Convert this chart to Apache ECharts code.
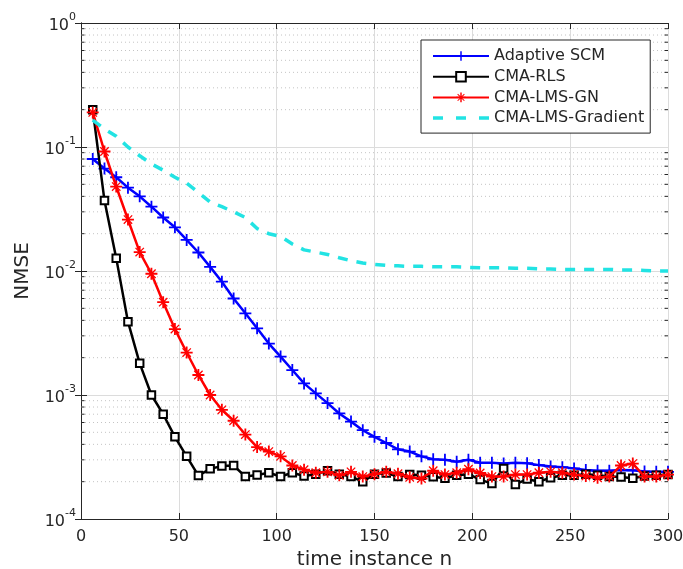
<!DOCTYPE html>
<html><head><meta charset="utf-8">
<script src="https://cdn.jsdelivr.net/npm/echarts@6/dist/echarts.min.js"></script>
<style>html,body{margin:0;padding:0;background:#fff}#c{width:683px;height:569px}</style>
</head><body><div id="c"></div>
<script>
const nValues = [6,12,18,24,30,36,42,48,54,60,66,72,78,84,90,96,102,108,114,120,126,132,138,144,150,156,162,168,174,180,186,192,198,204,210,216,222,228,234,240,246,252,258,264,270,276,282,288,294,300];
const adaptiveSCM = [0.080,0.067,0.057,0.047,0.040,0.033,0.027,0.0225,0.0178,0.0141,
  0.0108,0.0082,0.0060,0.00456,0.00345,0.0026,0.00204,0.00159,0.00124,0.00103,
  0.00086,0.00071,0.00061,0.00052,0.00046,0.00041,0.000365,0.00035,0.00032,0.000303,
  0.0003,0.00029,0.0003,0.000284,0.000284,0.00028,0.000284,0.000282,0.000272,0.000265,
  0.000262,0.000256,0.000248,0.000245,0.000245,0.000248,0.000247,0.000242,0.00024,0.00024];
const cmaRLS = [0.20,0.037,0.0127,0.0039,0.0018,0.0010,0.00070,0.00046,0.00032,0.000224,
  0.000254,0.000267,0.00027,0.00022,0.000226,0.000236,0.00022,0.000236,0.000222,0.00023,
  0.000245,0.00023,0.00022,0.00020,0.00023,0.000235,0.00022,0.000228,0.000225,0.000219,
  0.000213,0.000225,0.00023,0.000208,0.000193,0.000255,0.00019,0.00021,0.0002,0.000215,
  0.000225,0.000225,0.00023,0.000225,0.00022,0.000218,0.000213,0.000222,0.000225,0.000228];
const cmaLMSGN = [0.19,0.092,0.048,0.026,0.0142,0.0095,0.0056,0.0034,0.0022,0.00145,
  0.00100,0.00076,0.00062,0.00048,0.00038,0.00035,0.00032,0.00027,0.00025,0.000236,
  0.00024,0.000225,0.00024,0.00022,0.00023,0.00024,0.000232,0.000217,0.000212,0.000245,
  0.000228,0.000236,0.000252,0.000235,0.00022,0.00022,0.000228,0.000228,0.000236,0.00024,
  0.000236,0.000228,0.000222,0.000215,0.00022,0.00027,0.00028,0.00022,0.00022,0.000228];
const cmaLMSGradient = [0.165,0.14,0.122,0.10,0.085,0.073,0.065,0.057,0.051,0.043,
  0.036,0.033,0.030,0.027,0.022,0.020,0.019,0.0165,0.0148,0.0142,
  0.0136,0.0128,0.0121,0.0116,0.0113,0.0111,0.0110,0.0109,0.0109,0.0108,
  0.0108,0.0108,0.0107,0.0106,0.0106,0.0106,0.0105,0.0105,0.0104,0.0104,
  0.0103,0.0103,0.0103,0.0103,0.0103,0.0102,0.0102,0.0101,0.0100,0.0100];
const seriesNames = ['Adaptive SCM','CMA-RLS','CMA-LMS-GN','CMA-LMS-Gradient'];
const xTicks = [0,50,100,150,200,250,300];
const yDecades = [1e-4,1e-3,1e-2,1e-1,1];

const minorVals = [];
for (let i = 0; i < yDecades.length - 1; i++) for (let k = 2; k <= 9; k++) minorVals.push([0, k * yDecades[i]]);

const FONT = 'DejaVu Sans';
const TXT = '#262626';
const CYAN = '#22e3e3';
const pair = arr => nValues.map((n, i) => [n, arr[i]]);

const plusPath = 'path://M8.5,0H11.5V8.5H20V11.5H11.5V20H8.5V11.5H0V8.5H8.5Z';
const starPath = 'path://M8.5,0H11.5V20H8.5Z M0,8.5H20V11.5H0Z M3.75,2.25L17.75,16.25L16.25,17.75L2.25,3.75Z M17.75,3.75L3.75,17.75L2.25,16.25L16.25,2.25Z';
const dashIcon = 'path://M0,0H10V3.5H0Z M23,0H33V3.5H23Z M46,0H56V3.5H46Z';

const chart = echarts.init(document.getElementById('c'), null, {renderer: 'canvas'});
const axisLineStyle = {color: TXT, width: 1};
chart.setOption({
  animation: false,
  backgroundColor: '#fff',
  textStyle: {fontFamily: FONT},
  grid: {left: 81, right: 15, top: 23, bottom: 50, containLabel: false, outerBoundsMode: 'none'},
  legend: {
    orient: 'vertical', left: 421, top: 40,
    data: [
      {name: seriesNames[0]},
      {name: seriesNames[1]},
      {name: seriesNames[2]},
      {name: seriesNames[3], icon: dashIcon, itemStyle: {color: CYAN}}
    ],
    backgroundColor: '#fff', borderColor: TXT, borderWidth: 1,
    padding: [8, 6, 7, 11], itemWidth: 56, itemHeight: 12, itemGap: 4.7,
    textStyle: {fontFamily: FONT, fontSize: 16, color: TXT},
    selectedMode: false
  },
  xAxis: [{
    type: 'value', min: xTicks[0], max: xTicks[xTicks.length - 1], interval: 50,
    name: 'time instance n', nameLocation: 'middle', nameGap: 29,
    nameTextStyle: {fontFamily: FONT, fontSize: 20, color: TXT},
    axisLine: {show: true, lineStyle: axisLineStyle},
    axisTick: {show: true, inside: true, length: 6, lineStyle: axisLineStyle},
    axisLabel: {fontFamily: FONT, fontSize: 16, color: TXT, margin: 10},
    splitLine: {show: true, lineStyle: {color: '#dcdcdc', width: 1}}
  }, {
    type: 'value', position: 'top', min: 0, max: 300, interval: 50,
    axisLine: {show: true, lineStyle: axisLineStyle},
    axisTick: {show: true, inside: true, length: 6, lineStyle: axisLineStyle},
    axisLabel: {show: false}, splitLine: {show: false}
  }],
  yAxis: [{
    type: 'log', logBase: 10, min: yDecades[0], max: yDecades[yDecades.length - 1],
    name: 'NMSE', nameLocation: 'middle', nameGap: 48, nameRotate: 90,
    nameTextStyle: {fontFamily: FONT, fontSize: 20, color: TXT},
    axisLine: {show: true, lineStyle: axisLineStyle},
    axisTick: {show: true, inside: true, length: 6, lineStyle: axisLineStyle},
    axisLabel: {
      margin: 5,
      formatter: v => '{b|10}{s|' + Math.round(Math.log10(v)) + '}',
      rich: {
        b: {fontFamily: FONT, fontSize: 16, color: TXT, lineHeight: 22, verticalAlign: 'bottom'},
        s: {fontFamily: FONT, fontSize: 11, color: TXT, lineHeight: 11, verticalAlign: 'top'}
      }
    },
    splitLine: {show: true, lineStyle: {color: '#dcdcdc', width: 1}}
  }, {
    type: 'log', logBase: 10, min: 1e-4, max: 1, position: 'right',
    axisLine: {show: true, lineStyle: axisLineStyle},
    axisTick: {show: true, inside: true, length: 6, lineStyle: axisLineStyle},
    axisLabel: {show: false}, splitLine: {show: false}
  }],
  series: [{
    type: 'custom', name: 'minorGrid', silent: true, z: 1,
    xAxisIndex: 0, yAxisIndex: 0,
    encode: {x: 0, y: 1},
    data: minorVals,
    renderItem: (params, api) => {
      const v = api.value(1);
      const a = api.coord([0, v]);
      const b = api.coord([300, v]);
      return {type: 'group', children: [
        {type: 'line', shape: {x1: a[0], y1: a[1], x2: b[0], y2: b[1]},
          style: {stroke: '#c4c4c4', lineWidth: 1, lineDash: [1, 3]}},
        {type: 'line', shape: {x1: a[0], y1: a[1], x2: a[0] + 3.5, y2: a[1]},
          style: {stroke: TXT, lineWidth: 1}},
        {type: 'line', shape: {x1: b[0] - 3.5, y1: b[1], x2: b[0], y2: b[1]},
          style: {stroke: TXT, lineWidth: 1}}
      ]};
    }
  }, {
    name: seriesNames[0], type: 'line', data: pair(adaptiveSCM), z: 3,
    symbol: plusPath, symbolSize: 12, showAllSymbol: true,
    lineStyle: {color: '#0000ff', width: 2.5},
    itemStyle: {color: '#0000ff'}
  }, {
    name: seriesNames[1], type: 'line', data: pair(cmaRLS), z: 4,
    symbol: 'rect', symbolSize: 7.5, showAllSymbol: true,
    lineStyle: {color: '#000000', width: 2.5},
    itemStyle: {color: '#ffffff', borderColor: '#000000', borderWidth: 2}
  }, {
    name: seriesNames[2], type: 'line', data: pair(cmaLMSGN), z: 5,
    symbol: starPath, symbolSize: 12, showAllSymbol: true,
    lineStyle: {color: '#ff0000', width: 2.5},
    itemStyle: {color: '#ff0000'}
  }, {
    name: seriesNames[3], type: 'line', data: pair(cmaLMSGradient), z: 6,
    symbol: 'none', showSymbol: false,
    lineStyle: {color: CYAN, width: 3.5, type: [10, 9]},
    itemStyle: {color: CYAN}
  }]
});
</script></body></html>
